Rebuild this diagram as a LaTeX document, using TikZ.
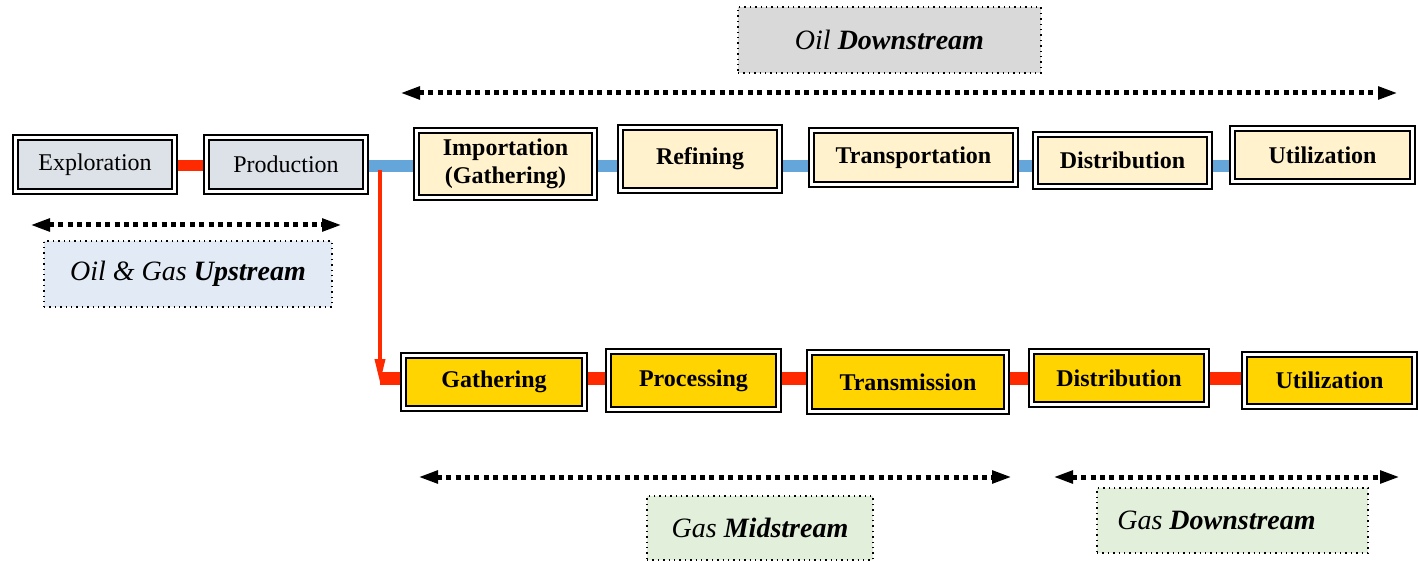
\documentclass[tikz,border=0pt]{standalone}
\usepackage{fontspec}
\setmainfont{Liberation Serif}
\usepackage{tikz}
\usetikzlibrary{arrows.meta,positioning,backgrounds,calc}
\usepackage{xcolor}
\definecolor{upslate}{HTML}{DDE1E8}
\definecolor{oilcream}{HTML}{FFF2CC}
\definecolor{gasgold}{HTML}{FFD400}
\definecolor{oilblue}{HTML}{64A6DA}
\definecolor{gasred}{HTML}{FF2A00}
\definecolor{upbg}{HTML}{E1EAF5}
\definecolor{downbg}{HTML}{D9D9D9}
\definecolor{gasbg}{HTML}{E2EFDA}

\begin{document}
\begin{tikzpicture}[
  x=0.5pt, y=-0.5pt,
  stagebox/.style={
    draw=black,
    double=white,
    line width=1.2pt,
    double distance=1.1pt,
    inner sep=0pt,
    align=center,
    font=\fontsize{12}{12.5}\selectfont
  },
  upbox/.style={stagebox, fill=upslate},
  oilbox/.style={stagebox, fill=oilcream, font=\fontsize{12}{12.5}\selectfont\bfseries},
  gasbox/.style={stagebox, fill=gasgold, font=\fontsize{12}{12.5}\selectfont\bfseries},
  tagbox/.style={
    draw=black,
    dotted,
    line width=0.7pt,
    inner sep=0pt,
    font=\fontsize{14}{15}\selectfont\itshape
  },
  spanarrow/.style={
    {Triangle[length=10pt,width=6pt]}-{Triangle[length=10pt,width=6pt]},
    line width=2.5pt,
    dash pattern=on 2.5pt off 2.2pt
  },
  oillink/.style={draw=oilblue, line width=6pt},
  gaslink/.style={draw=gasred, line width=6.5pt}
]
  \useasboundingbox (0,0) rectangle (1418,561);

  % --- Upstream ---
  \node[upbox, minimum width=79.5pt, minimum height=27pt] (explor) at (95,164.5) {Exploration};
  \node[upbox, minimum width=79.5pt, minimum height=27pt] (prod) at (286,164.5) {Production};

  % --- Oil chain ---
  \node[oilbox, minimum width=89pt, minimum height=33.5pt] (imp) at (505.5,164) {Importation\\[1.5pt](Gathering)};
  \node[oilbox, minimum width=79.5pt, minimum height=31.5pt] (refin) at (700,159) {Refining};
  \node[oilbox, minimum width=102pt, minimum height=27pt] (transp) at (913.5,157.5) {Transportation};
  \node[oilbox, minimum width=87pt, minimum height=26pt] (oildist) at (1122.5,160.5) {Distribution};
  \node[oilbox, minimum width=90pt, minimum height=26.5pt] (oilutil) at (1322.5,155) {Utilization};

  % --- Gas chain ---
  \node[gasbox, minimum width=90.5pt, minimum height=26.5pt] (gather) at (494,382) {Gathering};
  \node[gasbox, minimum width=85pt, minimum height=29pt] (process) at (693.5,380.5) {Processing};
  \node[gasbox, minimum width=98.5pt, minimum height=29.5pt] (transm) at (908,382) {Transmission};
  \node[gasbox, minimum width=87.5pt, minimum height=26.5pt] (gasdist) at (1119,378) {Distribution};
  \node[gasbox, minimum width=85pt, minimum height=26pt] (gasutil) at (1329.5,380.5) {Utilization};

  % --- Segment tags ---
  \node[tagbox, fill=upbg, minimum width=144pt, minimum height=33pt] (uptag) at (188,274) {Oil \& Gas \textbf{Upstream}};
  \node[tagbox, fill=downbg, minimum width=151.5pt, minimum height=33pt] (oiltag) at (889.5,40) {Oil \textbf{Downstream}};
  \node[tagbox, fill=gasbg, minimum width=113pt, minimum height=32pt] (midtag) at (760,528) {Gas \textbf{Midstream}};
  \node[tagbox, fill=gasbg, minimum width=135.5pt, minimum height=32.5pt] (gasdowntag) at (1232.5,520.5) {Gas \textbf{Downstream}\hspace*{16pt}};

  \coordinate (oilline) at (0,166);
  \coordinate (gasline) at (0,378);
  \coordinate (split) at (380,170);

  % Links behind the boxes
  \begin{scope}[on background layer]
    \draw[gaslink, line width=5.5pt] (explor.east |- oilline) -- (prod.west |- oilline);
    \draw[oillink] (prod.east |- oilline) -- (imp.west |- oilline);
    \draw[oillink] (imp.east |- oilline) -- (refin.west |- oilline);
    \draw[oillink] (refin.east |- oilline) -- (transp.west |- oilline);
    \draw[oillink] (transp.east |- oilline) -- (oildist.west |- oilline);
    \draw[oillink] (oildist.east |- oilline) -- (oilutil.west |- oilline);
    \draw[gaslink] (split |- gasline) -- (gather.west |- gasline);
    \draw[gaslink] (gather.east |- gasline) -- (process.west |- gasline);
    \draw[gaslink] (process.east |- gasline) -- (transm.west |- gasline);
    \draw[gaslink] (transm.east |- gasline) -- (gasdist.west |- gasline);
    \draw[gaslink] (gasdist.east |- gasline) -- (gasutil.west |- gasline);
  \end{scope}

  % Oil & gas split
  \draw[-{Triangle[length=12pt,width=5pt]}, draw=gasred, fill=gasred, line width=1.8pt]
    (split) -- ($(split |- gasline) + (0,5)$);

  % Span arrows
  \coordinate (upL) at (30,225);   \coordinate (upR) at (342,225);
  \coordinate (oilL) at (400,93);  \coordinate (oilR) at (1398,93);
  \coordinate (midL) at (418,477); \coordinate (midR) at (1012,477);
  \coordinate (gdL) at (1053,477); \coordinate (gdR) at (1400,477);
  \draw[spanarrow] (upL) -- (upR);
  \draw[spanarrow] (oilL) -- (oilR);
  \draw[spanarrow] (midL) -- (midR);
  \draw[spanarrow] (gdL) -- (gdR);

\end{tikzpicture}
\end{document}
